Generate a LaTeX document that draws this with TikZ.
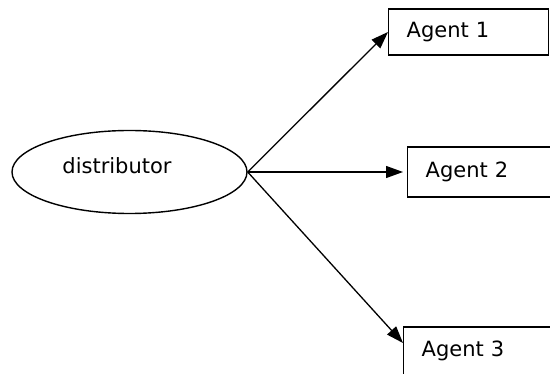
\documentclass[tikz,border=0pt]{standalone}
\usepackage{fontspec}
\setmainfont{DejaVu Sans}
\usetikzlibrary{shapes.geometric,arrows.meta}
\tikzset{
  agentbox/.style={draw,line width=1.4pt,anchor=west,inner xsep=18pt,text width=124pt,align=left,minimum height=46pt},
  flow/.style={-{Triangle[length=17pt,width=12pt]},line width=1.3pt}
}
\begin{document}
\begin{tikzpicture}[x=1pt,y=-1pt,font=\fontsize{21}{25}\selectfont]
  \useasboundingbox (0,0) rectangle (550,374);
  \node[ellipse,draw,line width=1.4pt,minimum width=235pt,minimum height=83pt,inner sep=0pt] (dist) at (129.5,172) {};
  \node (distlbl) at (117,166) {distributor};
  \node[agentbox] (a1) at (388,32) {Agent 1};
  \node[agentbox,minimum height=50pt,text width=200pt] (a2) at (407,172) {Agent 2};
  \node[agentbox,minimum height=48pt,text width=200pt] (a3) at (403,351) {Agent 3};
  \begin{scope}[flow]
    \draw (dist.east) to (a1.west);
    \draw (dist.east) to ([xshift=-4pt]a2.west);
    \draw (dist.east) to ([yshift=8pt]a3.west);
  \end{scope}
\end{tikzpicture}
\end{document}
